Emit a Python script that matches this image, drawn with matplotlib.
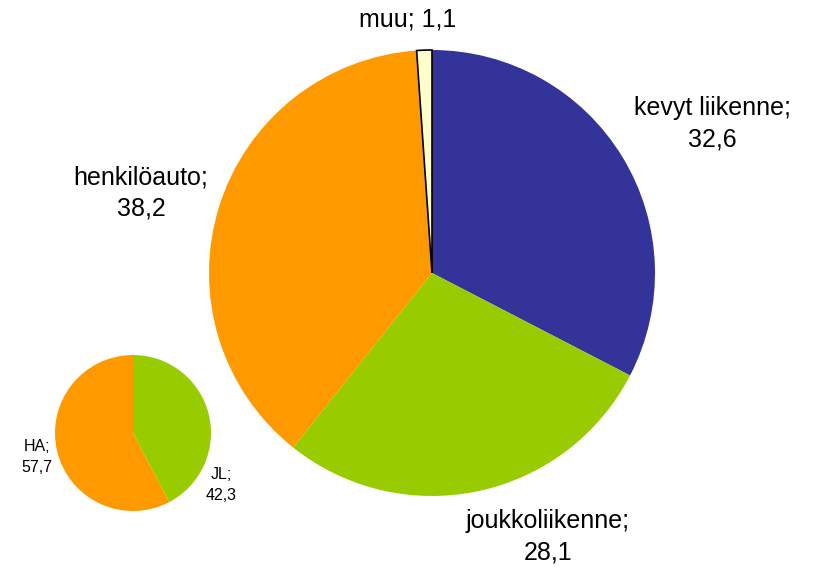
import matplotlib.pyplot as plt

plt.rcParams['font.family'] = ['Liberation Sans', 'DejaVu Sans']

# main pie: share of trips by mode (%)
labels = ["kevyt liikenne", "joukkoliikenne", "henkilöauto", "muu"]
values = [32.6, 28.1, 38.2, 1.1]
colors = ["#333399", "#99cc00", "#ff9900", "#ffffcc"]

# small pie: transit vs car
small_labels = ["JL", "HA"]
small_values = [42.3, 57.7]
small_colors = ["#99cc00", "#ff9900"]

W, H = 814, 568
fig = plt.figure(figsize=(W / 100, H / 100), dpi=100)
ax = fig.add_axes([0, 0, 1, 1])

def fmt(v):
    return f"{v:.1f}".replace('.', ',')

wedges, _ = ax.pie(values, colors=colors, startangle=90, counterclock=False,
                   center=(432, H - 273), radius=223, frame=True,
                   wedgeprops=dict(linewidth=0))
wedges[3].set_edgecolor('black')
wedges[3].set_linewidth(1.2)

sw, _ = ax.pie(small_values, colors=small_colors, startangle=90, counterclock=False,
               center=(133, H - 433), radius=78, frame=True,
               wedgeprops=dict(linewidth=0))
ax.set_xlim(0, W)
ax.set_ylim(0, H)
ax.set_aspect('equal')
ax.axis('off')

# label positions in pixels (x, y from top)
label_pos = [(712, 124), (548, 537), (141, 193)]
for (x, y), lab, v in zip(label_pos, labels[:3], values[:3]):
    ax.text(x, H - y, f"{lab};\n{fmt(v)}", ha='center', va='center',
            fontsize=18, linespacing=1.42)
ax.text(408, H - 20, f"{labels[3]}; {fmt(values[3])}", ha='center', va='center',
        fontsize=18)

small_pos = [(221, 485), (37, 457)]
for (x, y), lab, v in zip(small_pos, small_labels, small_values):
    ax.text(x, H - y, f"{lab};\n{fmt(v)}", ha='center', va='center',
            fontsize=11.5, linespacing=1.45)

fig.savefig("out.png", dpi=100, facecolor='white')
